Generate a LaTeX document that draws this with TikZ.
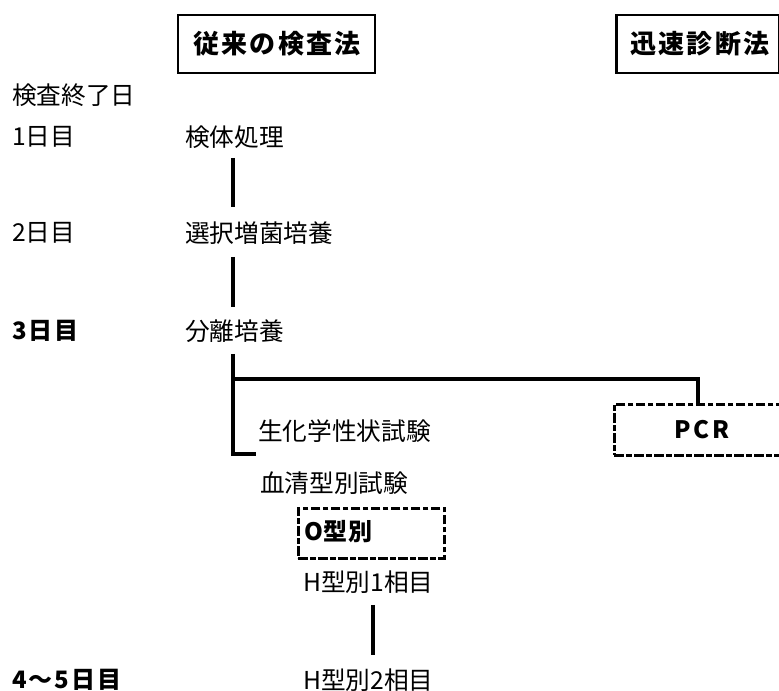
\documentclass[tikz,border=0pt]{standalone}
\usepackage{fontspec}
\setmainfont{Noto Sans CJK JP}
\begin{document}
\begin{tikzpicture}[x=0.75pt,y=-0.75pt,
  txt/.style={inner sep=0pt, anchor=west, font=\fontsize{18.5}{20}\selectfont},
  boldtxt/.style={inner sep=0pt, anchor=west, font=\fontsize{18}{20}\selectfont\bfseries\addfontfeature{LetterSpace=8}},
  headbox/.style={draw, line width=2.2pt, inner sep=0pt},
  headtxt/.style={inner sep=0pt, font=\fontsize{19.5}{22}\selectfont\bfseries\addfontfeature{LetterSpace=8}},
  dashbox/.style={draw, line width=2pt, dash pattern=on 7pt off 2pt on 4pt off 2pt, inner sep=0pt},
  conn/.style={line width=3pt}]
\useasboundingbox (0,0) rectangle (779,691);
% headers
\node[headbox, minimum width=147.75pt, minimum height=43.5pt] (h1) at (276.5,44) {};
\node[headtxt] (h1t) at (277,44) {従来の検査法};
\node[headbox, anchor=west, minimum width=122pt, minimum height=43.5pt] (h2) at (615,44) {};
\node[headtxt] (h2t) at (700,44) {迅速診断法};
% day labels
\node[txt] (d0) at (12,95) {検査終了日};
\node[txt] (d1) at (12,137) {1日目};
\node[txt] (d2) at (12,233) {2日目};
\node[boldtxt] (d3) at (12,331) {3日目};
\node[boldtxt] (d45) at (12,680) {4〜5日目};
% steps
\node[txt] (s1) at (185,137) {検体処理};
\node[txt] (s2) at (185,233) {選択増菌培養};
\node[txt] (s3) at (185,331) {分離培養};
\node[txt] (s4) at (258,431) {生化学性状試験};
\node[txt] (s5) at (260,483) {血清型別試験};
\node[dashbox, anchor=north west, minimum width=109.5pt, minimum height=37.5pt] (ob) at (297,507) {};
\node[inner sep=0pt, anchor=west, font=\fontsize{18}{20}\selectfont\bfseries\addfontfeature{LetterSpace=3}] (ot) at (304,532) {O型別};
\node[txt] (hh1) at (303,582) {H型別1相目};
\node[txt] (hh2) at (303,680) {H型別2相目};
% PCR
\node[dashbox, anchor=north west, minimum width=135pt, minimum height=38.25pt] (pcr) at (613,403) {};
\node[inner sep=0pt, font=\fontsize{18}{20}\selectfont\bfseries\addfontfeature{LetterSpace=10}] (pcrt) at (702,430) {PCR};
% connectors
\coordinate (a1) at (233,158); \coordinate (a2) at (233,207);
\coordinate (b1) at (233,257); \coordinate (b2) at (233,307);
\coordinate (c1) at (233,354); \coordinate (c2) at (233,454);
\coordinate (cE) at (256,454);
\coordinate (j) at (233,379); \coordinate (k) at (698,379);
\coordinate (e1) at (373,605); \coordinate (e2) at (373,655);
\draw[conn] (a1) -- (a2);
\draw[conn] (b1) -- (b2);
\draw[conn] (c1) -- (c2) -- (cE);
\draw[conn] (j) -- (k) -- (k |- pcr.north);
\draw[conn] (e1) -- (e2);
\end{tikzpicture}
\end{document}
